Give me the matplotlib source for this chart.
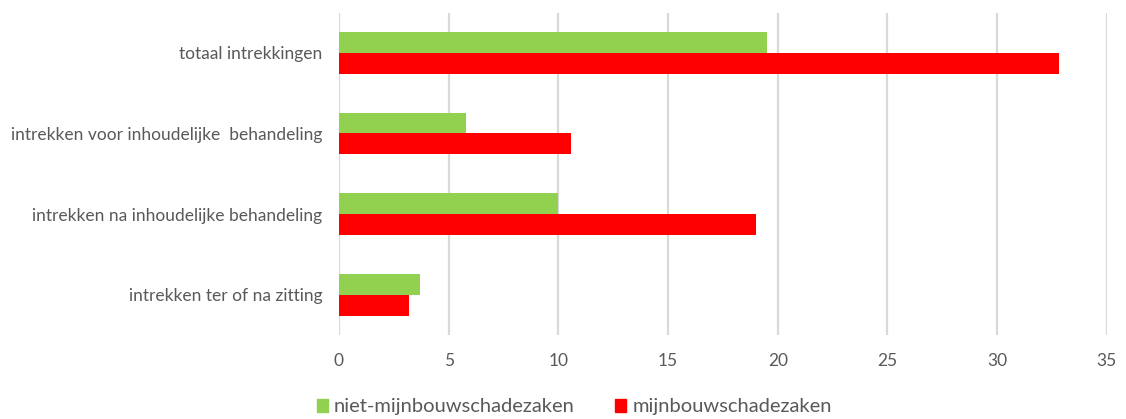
import numpy as np
import matplotlib
matplotlib.use("Agg")
import matplotlib.pyplot as plt
from matplotlib.patches import Patch

categories = [
    "totaal intrekkingen",
    "intrekken voor inhoudelijke  behandeling",
    "intrekken na inhoudelijke behandeling",
    "intrekken ter of na zitting",
]
niet_mijnbouw = [19.5, 5.8, 10.0, 3.7]
mijnbouw = [32.8, 10.6, 19.0, 3.2]
xticks = [0, 5, 10, 15, 20, 25, 30, 35]

GREEN = "#92D050"
RED = "#FF0000"
TEXT = "#595959"

plt.rcParams["font.family"] = ["Lato", "DejaVu Sans"]

fig = plt.figure(figsize=(11.26, 4.19), dpi=100)
ax = fig.add_axes([0.301, 0.2005, 0.682, 0.7695])

y = np.arange(len(categories))
h = 0.26
ax.barh(y - h / 2, niet_mijnbouw, height=h, color=GREEN, zorder=3)
ax.barh(y + h / 2, mijnbouw, height=h, color=RED, zorder=3)

ax.set_ylim(3.5, -0.5)
ax.set_xlim(0, 35)
ax.set_xticks(xticks)
ax.set_yticks(y)
ax.set_yticklabels(categories)
ax.tick_params(axis="both", length=0, colors=TEXT, labelsize=12.5)
ax.tick_params(axis="x", pad=13)
ax.tick_params(axis="y", pad=12)
ax.grid(axis="x", color="#d9d9d9", linewidth=1.6, zorder=0)
for s in ax.spines.values():
    s.set_visible(False)

handles = [Patch(color=GREEN), Patch(color=RED)]
fig.legend(handles, ["niet-mijnbouwschadezaken", "mijnbouwschadezaken"],
           loc="center", bbox_to_anchor=(0.510, 0.029), ncol=2, frameon=False,
           fontsize=14.5, handlelength=0.55, handleheight=0.6, handletextpad=0.3,
           columnspacing=2.0, labelcolor=TEXT)

fig.savefig("out.png", dpi=100)
